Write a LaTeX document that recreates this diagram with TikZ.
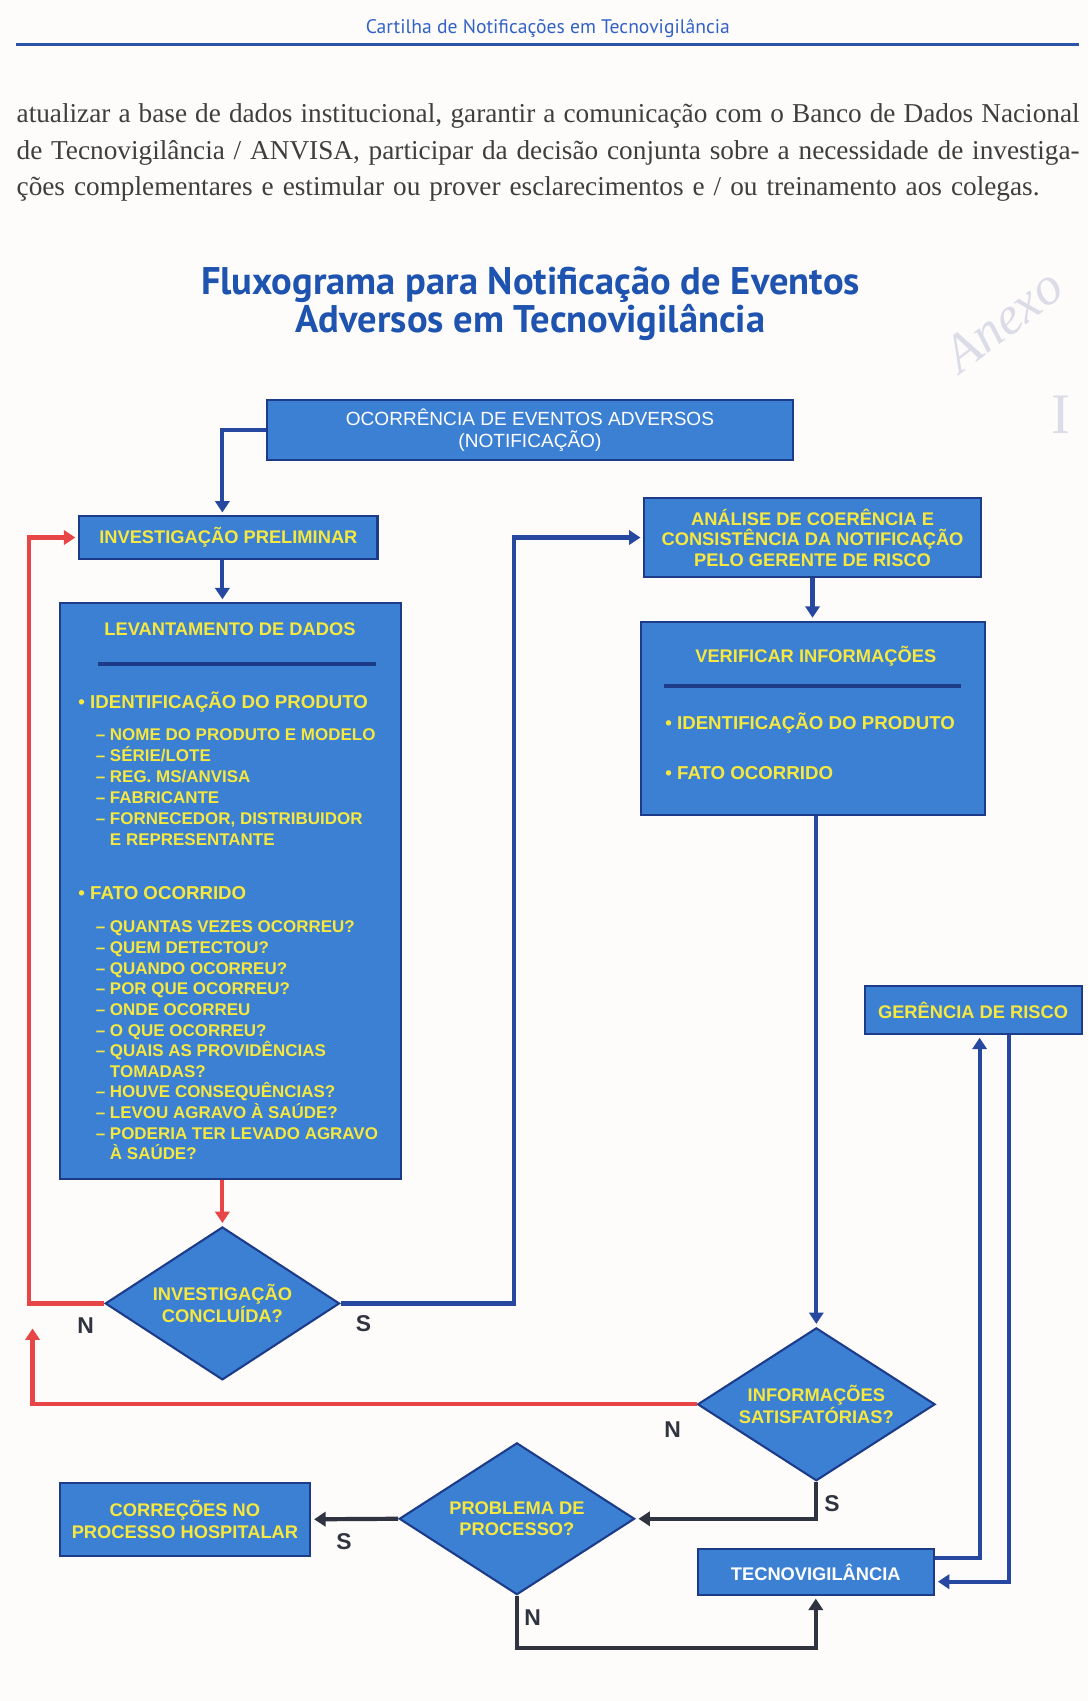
\documentclass[tikz,border=0pt]{standalone}
\usepackage{fontspec}
\setmainfont{Liberation Serif}
\newfontfamily\boxfont{Liberation Sans}
\newfontfamily\headfont{PT Sans}
\usetikzlibrary{arrows.meta,shapes.geometric,positioning}

\definecolor{paper}{RGB}{253,252,250}
\definecolor{boxfill}{RGB}{60,128,212}
\definecolor{boxline}{RGB}{28,60,138}
\definecolor{boxyellow}{RGB}{246,232,62}
\definecolor{flowblue}{RGB}{38,72,160}
\definecolor{flowred}{RGB}{232,70,70}
\definecolor{flowgray}{RGB}{48,52,64}
\definecolor{headblue}{RGB}{50,98,198}
\definecolor{titleblue}{RGB}{30,84,176}
\definecolor{bodygray}{RGB}{62,62,62}
\definecolor{pencil}{RGB}{220,220,232}

\tikzset{
  box/.style={draw=boxline, fill=boxfill, line width=1.1pt, inner sep=0pt,
    align=center, text=boxyellow, font=\boxfont\bfseries\fontsize{9.6}{10.8}\selectfont},
  decision/.style={box, diamond, aspect=1.55, font=\boxfont\bfseries\fontsize{9.6}{11.4}\selectfont},
  boxtxt/.style={inner sep=0pt, text=boxyellow, font=\boxfont\bfseries\fontsize{9.6}{10.8}\selectfont},
  bullethead/.style={boxtxt, anchor=base west, font=\boxfont\bfseries\fontsize{9.8}{11}\selectfont},
  itemtxt/.style={boxtxt, anchor=base west, font=\boxfont\bfseries\fontsize{8.9}{10}\selectfont},
  divider/.style={draw=boxline, line width=2.2pt},
  conn/.style={line width=2.2pt, shorten >=1.5pt, -{Triangle[length=6pt,width=7.5pt]}},
  bluearrow/.style={conn, draw=flowblue},
  redarrow/.style={conn, draw=flowred},
  grayarrow/.style={conn, draw=flowgray},
  flag/.style={inner sep=0pt, text=flowgray, font=\boxfont\bfseries\fontsize{12}{12}\selectfont},
  bodyline/.style={anchor=base west, inner sep=0pt, text=bodygray, font=\fontsize{14.3}{16}\selectfont},
  anexo/.style={inner sep=0pt, text=pencil, font=\itshape\fontsize{28}{28}\selectfont}
}

\begin{document}
\begin{tikzpicture}[x=0.02cm,y=-0.02cm]
  \fill[paper] (0,0) rectangle (1003,1568);
  \useasboundingbox (0,0) rectangle (1003,1568);

  % page head and text
  \node[font=\headfont\fontsize{10.3}{12}\selectfont, text=headblue] (cartilha) at (505,26) {Cartilha de Notificações em Tecnovigilância};
  \draw[headblue!85!black, line width=1.7pt] (15,41) -- (995,41);
  \node[bodyline] (par1) at (15,113)
    {\makebox[19.6cm][s]{atualizar a base de dados institucional, garantir a comunicação com o Banco de Dados Nacional}};
  \node[bodyline] (par2) at (15,147)
    {\makebox[19.6cm][s]{de Tecnovigilância / ANVISA, participar da decisão conjunta sobre a necessidade de investiga-}};
  \node[bodyline] (par3) at (15,180)
    {\makebox[18.86cm][s]{ções complementares e estimular ou prover esclarecimentos e / ou treinamento aos colegas.}};

  % title
  \node[align=center, text=titleblue, font=\headfont\bfseries\fontsize{20.2}{20}\selectfont] (titulo) at (489,280)
    {Fluxograma para Notificação de Eventos\\Adversos em Tecnovigilância};

  % left column
  \node[box, text=white, font=\boxfont\fontsize{10}{12}\selectfont, minimum width=9.7cm, minimum height=1.1cm] (ocorr) at (488.5,396.5)
    {OCORRÊNCIA DE EVENTOS ADVERSOS\\(NOTIFICAÇÃO)};
  \node[box, minimum width=5.5cm, minimum height=0.78cm] (invprel) at (210.5,495.5) {INVESTIGAÇÃO PRELIMINAR};
  \node[box, minimum width=6.3cm, minimum height=10.62cm] (levant) at (212.5,821.5) {};
  \node[boxtxt] (levtit) at (212,580) {LEVANTAMENTO DE DADOS};
  \draw[divider] (90,612) -- (347,612);
  \node[bullethead] (idprod) at (72,653) {\textbullet\ IDENTIFICAÇÃO DO PRODUTO};
  \foreach \t [count=\i from 0] in {{\textendash\ NOME DO PRODUTO E MODELO},{\textendash\ SÉRIE/LOTE},
      {\textendash\ REG. MS/ANVISA},{\textendash\ FABRICANTE},{\textendash\ FORNECEDOR, DISTRIBUIDOR},
      {\phantom{\textendash\ }E REPRESENTANTE}}
    \node[itemtxt] (ip\i) at (88,683+19.2*\i) {\t};
  \node[bullethead] (fato) at (72,829) {\textbullet\ FATO OCORRIDO};
  \foreach \t [count=\i from 0] in {{\textendash\ QUANTAS VEZES OCORREU?},{\textendash\ QUEM DETECTOU?},
      {\textendash\ QUANDO OCORREU?},{\textendash\ POR QUE OCORREU?},{\textendash\ ONDE OCORREU},
      {\textendash\ O QUE OCORREU?},{\textendash\ QUAIS AS PROVIDÊNCIAS},{\phantom{\textendash\ }TOMADAS?},
      {\textendash\ HOUVE CONSEQUÊNCIAS?},{\textendash\ LEVOU AGRAVO À SAÚDE?},
      {\textendash\ PODERIA TER LEVADO AGRAVO},{\phantom{\textendash\ }À SAÚDE?}}
    \node[itemtxt] (fo\i) at (88,860+19*\i) {\t};
  \node[decision, minimum width=4.32cm, minimum height=2.82cm] (dia1) at (205,1201.5) {INVESTIGAÇÃO\\CONCLUÍDA?};

  % right column
  \node[box, minimum width=6.2cm, minimum height=1.46cm] (analise) at (749,495.5)
    {ANÁLISE DE COERÊNCIA E\\CONSISTÊNCIA DA NOTIFICAÇÃO\\PELO GERENTE DE RISCO};
  \node[box, minimum width=6.34cm, minimum height=3.56cm] (verif) at (749.5,662) {};
  \node[boxtxt] (veriftit) at (752,605) {VERIFICAR INFORMAÇÕES};
  \draw[divider] (612,632) -- (886,632);
  \node[bullethead] (vidprod) at (613,672) {\textbullet\ IDENTIFICAÇÃO DO PRODUTO};
  \node[bullethead] (vfato) at (613,719) {\textbullet\ FATO OCORRIDO};
  \node[box, minimum width=4cm, minimum height=0.88cm] (gerencia) at (897,931) {GERÊNCIA DE RISCO};
  \node[decision, minimum width=4.38cm, minimum height=2.82cm] (dia2) at (752.5,1294.5) {INFORMAÇÕES\\SATISFATÓRIAS?};

  % bottom row
  \node[decision, minimum width=4.34cm, minimum height=2.8cm] (dia3) at (476.5,1400) {PROBLEMA DE\\PROCESSO?};
  \node[box, font=\boxfont\bfseries\fontsize{9.6}{11.4}\selectfont, minimum width=4.62cm, minimum height=1.34cm] (correc) at (170.5,1400.5)
    {CORREÇÕES NO\\PROCESSO HOSPITALAR};
  \node[box, text=white, minimum width=4.36cm, minimum height=0.84cm] (tecno) at (752,1449) {TECNOVIGILÂNCIA};

  % connectors
  \draw[bluearrow] (ocorr.west) -| (dia1 |- invprel.north);
  \draw[bluearrow] (dia1 |- invprel.south) -- (dia1 |- levant.north);
  \draw[redarrow] (levant.south -| dia1) -- (dia1.north);
  \draw[redarrow] (dia1.west) -- ++(-69,0) |- (invprel.west);
  \draw[bluearrow] (dia1.east) -- ++(160,0) |- (analise.west);
  \draw[bluearrow] (analise.south) -- (analise.south |- verif.north);
  \draw[bluearrow] (verif.south -| dia2) -- (dia2.north);
  \coordinate (voltaN) at (30,1222);
  \draw[redarrow] (dia2.west) -| (voltaN);
  \draw[grayarrow] (dia2.south) |- (dia3.east);
  \draw[grayarrow] (dia3.west) -- (correc.east);
  \draw[grayarrow] (dia3.south) -- ++(0,48) -| (tecno.south);
  \draw[bluearrow] ([yshift=0.26cm]tecno.east) -| ([xshift=0.12cm]gerencia.south);
  \draw[bluearrow] ([xshift=0.66cm]gerencia.south) |- ([yshift=-0.18cm]tecno.east);

  % S / N
  \node[flag] (n1) at (79,1222) {N};
  \node[flag] (s1) at (335,1220) {S};
  \node[flag] (n2) at (620,1318) {N};
  \node[flag] (s2) at (767,1386) {S};
  \node[flag] (s3) at (317,1421) {S};
  \node[flag] (n3) at (491,1491) {N};

  % pencil note
  \node[anexo, rotate=37] (anexo) at (925,295) {Anexo};
  \node[anexo, font=\fontsize{30}{30}\selectfont] (anexoI) at (978,382) {I};
\end{tikzpicture}
\end{document}
